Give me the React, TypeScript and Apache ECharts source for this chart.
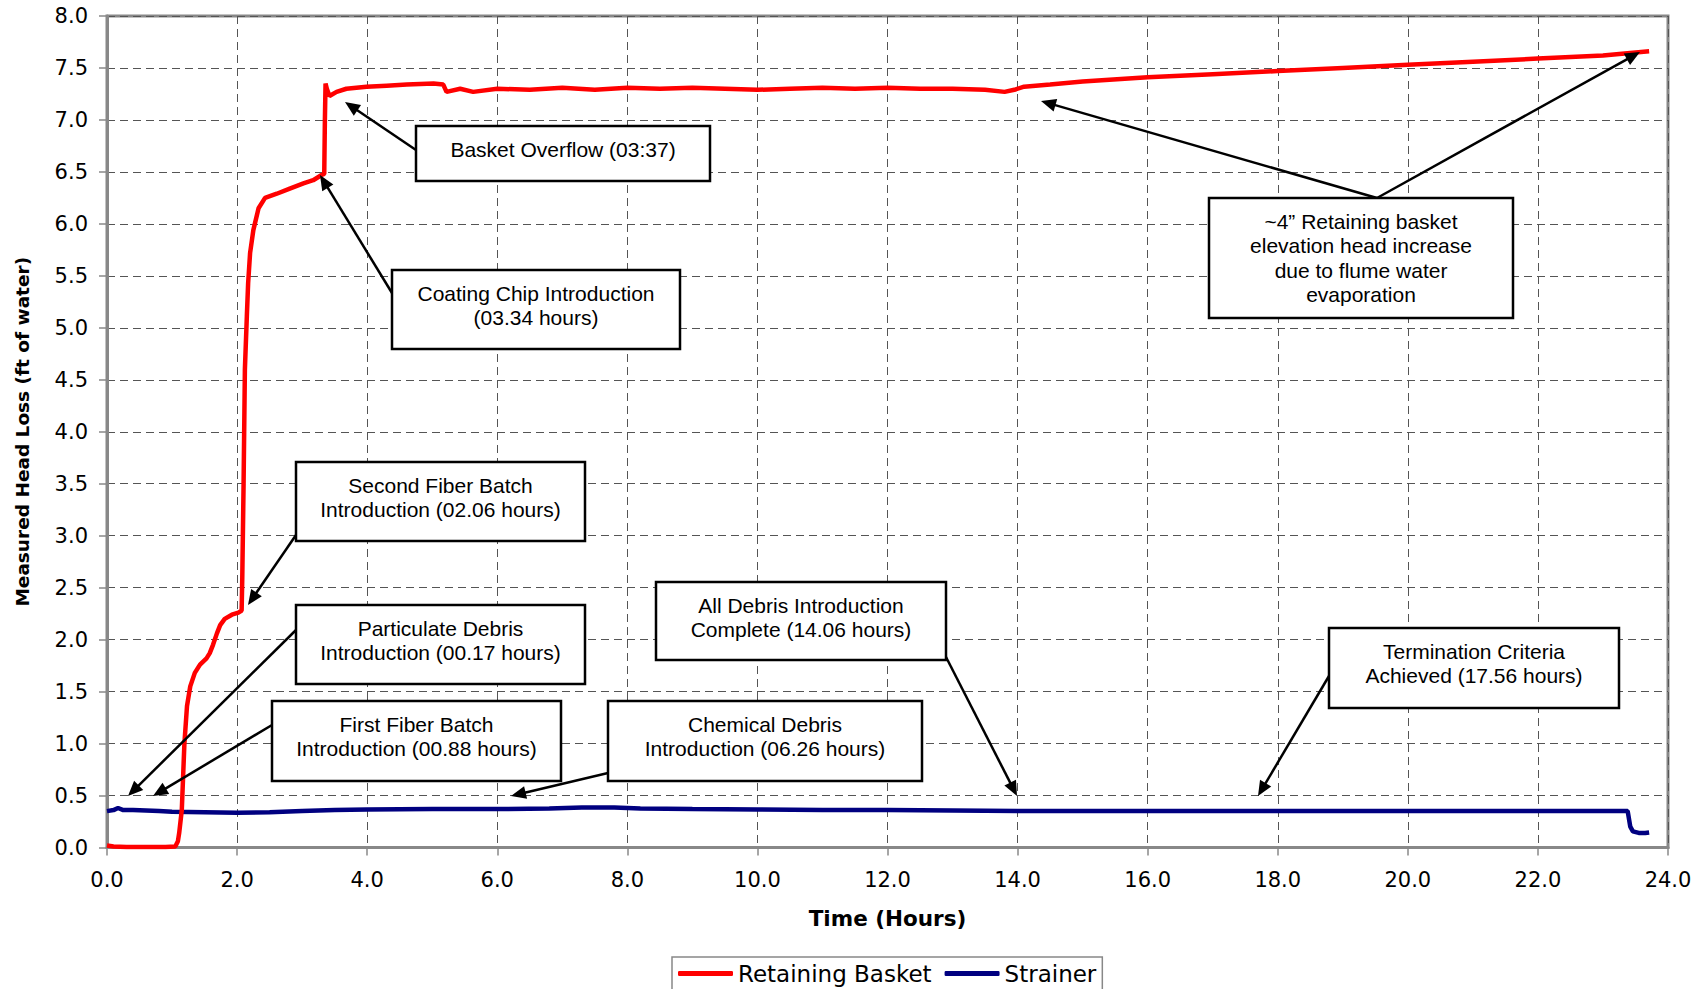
import React, { useEffect, useRef } from "react";
import * as echarts from "echarts";

// Retaining Basket head loss (ft of water) vs time (hours)
const basketTime = [
  0.0, 0.1, 0.3, 0.6, 0.9, 1.05, 1.09, 1.11, 1.15, 1.17, 1.19, 1.23, 1.28, 1.35, 1.43, 1.53, 1.58, 1.63,
  1.69, 1.74, 1.81, 1.92, 2.02, 2.07, 2.08, 2.1, 2.12, 2.15, 2.17, 2.2, 2.25, 2.33, 2.43, 2.61, 2.81,
  3.02, 3.17, 3.3, 3.34, 3.35, 3.36, 3.38, 3.42, 3.53, 3.68, 3.99, 4.3, 4.61, 5.02, 5.17, 5.22, 5.43,
  5.63, 6.0, 6.5, 7.0, 7.5, 8.0, 8.5, 9.0, 9.5, 10.0, 10.5, 11.0, 11.5, 12.0, 12.5, 13.0, 13.5, 13.8,
  13.95, 14.1, 14.5, 15.0, 16.0, 17.0, 18.0, 19.0, 20.0, 21.0, 22.0, 23.0, 23.71,
];
const basketHead = [
  0.02, 0.01, 0.005, 0.005, 0.005, 0.01, 0.06, 0.14, 0.36, 0.68, 1.0, 1.36, 1.55, 1.68, 1.76, 1.82, 1.87, 1.95,
  2.06, 2.14, 2.2, 2.24, 2.26, 2.28, 2.6, 3.5, 4.6, 5.11, 5.43, 5.72, 5.94, 6.15, 6.25, 6.29, 6.34,
  6.39, 6.42, 6.47, 6.48, 7.0, 7.35, 7.3, 7.23, 7.27, 7.3, 7.32, 7.33, 7.34, 7.35, 7.34, 7.27, 7.3,
  7.27, 7.3, 7.29, 7.31, 7.29, 7.31, 7.3, 7.31, 7.3, 7.29, 7.3, 7.31, 7.3, 7.31, 7.3, 7.3, 7.29, 7.27,
  7.29, 7.32, 7.34, 7.37, 7.41, 7.44, 7.47, 7.5, 7.53, 7.56, 7.59, 7.62, 7.66,
];

// Strainer head loss (ft of water) vs time (hours)
const strainerTime = [
  0.0, 0.1, 0.17, 0.25, 0.4, 0.6, 0.8, 1.0, 1.5, 2.0, 2.5, 3.0, 3.5, 4.0, 5.0, 6.0, 6.8, 7.3, 7.8, 8.2,
  9.0, 10.0, 11.0, 12.0, 13.0, 14.0, 15.0, 16.0, 17.0, 18.0, 19.0, 20.0, 21.0, 22.0, 23.0, 23.38, 23.42,
  23.46, 23.55, 23.65, 23.71,
];
const strainerHead = [
  0.35, 0.36, 0.38, 0.36, 0.36, 0.355, 0.35, 0.345, 0.34, 0.335, 0.34, 0.35, 0.36, 0.365, 0.37, 0.37, 0.375,
  0.385, 0.385, 0.375, 0.37, 0.365, 0.36, 0.36, 0.355, 0.35, 0.35, 0.35, 0.35, 0.35, 0.35, 0.35, 0.35, 0.352,
  0.352, 0.35, 0.2, 0.155, 0.14, 0.14, 0.145,
];

const seriesNames = ["Retaining Basket", "Strainer"];
const xAxisTitle = "Time (Hours)";
const yAxisTitle = "Measured Head Loss (ft of water)";

// Annotation texts
const annotationTexts: string[][] = [
  ["Basket Overflow (03:37)"],
  ["Coating Chip Introduction", "(03.34 hours)"],
  ["Second Fiber Batch", "Introduction (02.06 hours)"],
  ["Particulate Debris", "Introduction (00.17 hours)"],
  ["First Fiber Batch", "Introduction (00.88 hours)"],
  ["Chemical Debris", "Introduction (06.26 hours)"],
  ["All Debris Introduction", "Complete (14.06 hours)"],
  ["Termination Criteria", "Achieved (17.56 hours)"],
  ["~4\u201D Retaining basket", "elevation head increase", "due to flume water", "evaporation"],
];

// Annotation layout (pixel boxes [x, y, w, h] and arrows [x1, y1, tipX, tipY])
const annotationLayout: { box: number[]; arrows: number[][] }[] = [
  { box: [416, 126, 294, 55], arrows: [[416, 150, 345, 102]] },
  { box: [392, 270, 288, 79], arrows: [[392, 293, 320, 175]] },
  { box: [296, 462, 289, 79], arrows: [[296, 535, 248, 605]] },
  { box: [296, 605, 289, 79], arrows: [[296, 630, 128, 796]] },
  { box: [272, 701, 289, 80], arrows: [[272, 725, 153, 796]] },
  { box: [608, 701, 314, 80], arrows: [[608, 773, 511, 796]] },
  { box: [656, 582, 290, 78], arrows: [[946, 657, 1017, 796]] },
  { box: [1329, 628, 290, 80], arrows: [[1329, 676, 1258, 796]] },
  { box: [1209, 198, 304, 120], arrows: [[1377, 198, 1041, 101], [1377, 198, 1640, 52]] },
];

export default function App() {
  const ref = useRef<HTMLDivElement>(null);

  useEffect(() => {
    if (!ref.current) return;
    const chart = echarts.init(ref.current, null, { renderer: "svg" });

    const graphics: any[] = [];
    annotationLayout.forEach((a, idx) => {
      a.arrows.forEach(([x1, y1, x2, y2]) => {
        const dx = x2 - x1;
        const dy = y2 - y1;
        const L = Math.hypot(dx, dy);
        const ux = dx / L;
        const uy = dy / L;
        const hl = 15;
        const hw = 6.5;
        const bx = x2 - ux * hl;
        const by = y2 - uy * hl;
        graphics.push({
          type: "line",
          z: 100,
          shape: { x1, y1, x2: bx + ux * 2, y2: by + uy * 2 },
          style: { stroke: "#000", lineWidth: 2.5 },
        });
        graphics.push({
          type: "polygon",
          z: 100,
          shape: {
            points: [
              [x2, y2],
              [bx - uy * hw, by + ux * hw],
              [bx + uy * hw, by - ux * hw],
            ],
          },
          style: { fill: "#000" },
        });
      });
      const [bxp, byp, bw, bh] = a.box;
      graphics.push({
        type: "rect",
        z: 101,
        shape: { x: bxp, y: byp, width: bw, height: bh },
        style: { fill: "#fff", stroke: "#000", lineWidth: 2.5 },
      });
      annotationTexts[idx].forEach((line, i) => {
        graphics.push({
          type: "text",
          z: 102,
          x: bxp + bw / 2,
          y: byp + 23 + i * 24.5,
          style: {
            text: line,
            fill: "#000",
            fontSize: 21,
            fontFamily: '"Liberation Sans", Arial, sans-serif',
            align: "center",
            verticalAlign: "middle",
          },
        });
      });
    });

    const tickFont = {
      fontFamily: '"DejaVu Sans", sans-serif',
      fontSize: 21,
      color: "#000",
    };

    chart.setOption({
      animation: false,
      backgroundColor: "#fff",
      grid: {
        left: 107,
        right: 39,
        top: 16,
        bottom: 141.5,
        show: true,
        borderColor: "#888",
        borderWidth: 3,
        backgroundColor: "transparent",
      },
      legend: {
        data: seriesNames,
        left: 672,
        top: 957,
        orient: "horizontal",
        icon: "roundRect",
        itemWidth: 55,
        itemHeight: 5,
        itemGap: 13,
        padding: [5, 6, 12, 6],
        borderColor: "#888",
        borderWidth: 1.5,
        backgroundColor: "#fff",
        textStyle: { fontFamily: '"DejaVu Sans", sans-serif', fontSize: 23, color: "#000" },
      },
      xAxis: {
        type: "value",
        min: 0,
        max: 24,
        interval: 2,
        name: xAxisTitle,
        nameLocation: "middle",
        nameGap: 60,
        nameTextStyle: {
          fontFamily: '"DejaVu Sans", sans-serif',
          fontSize: 21.5,
          fontWeight: "bold",
          color: "#000",
        },
        axisLine: { show: true, lineStyle: { color: "#888", width: 3 } },
        axisTick: { show: true, length: 8, lineStyle: { color: "#888", width: 1.5 } },
        axisLabel: { ...tickFont, margin: 22, formatter: (v: number) => v.toFixed(1) },
        splitLine: { show: true, lineStyle: { color: "#555", width: 1, type: [8, 5] } },
      },
      yAxis: {
        type: "value",
        min: 0,
        max: 8,
        interval: 0.5,
        name: yAxisTitle,
        nameLocation: "middle",
        nameGap: 75,
        nameTextStyle: {
          fontFamily: '"DejaVu Sans", sans-serif',
          fontSize: 18.5,
          fontWeight: "bold",
          color: "#000",
        },
        axisLine: { show: true, lineStyle: { color: "#888", width: 3 } },
        axisTick: { show: true, length: 8, lineStyle: { color: "#888", width: 1.5 } },
        axisLabel: { ...tickFont, margin: 19, formatter: (v: number) => v.toFixed(1) },
        splitLine: { show: true, lineStyle: { color: "#555", width: 1, type: [8, 5] } },
      },
      series: [
        {
          name: seriesNames[0],
          type: "line",
          showSymbol: false,
          symbol: "none",
          z: 3,
          lineStyle: { color: "#ff0000", width: 4.5 },
          itemStyle: { color: "#ff0000" },
          data: basketTime.map((t, i) => [t, basketHead[i]]),
        },
        {
          name: seriesNames[1],
          type: "line",
          showSymbol: false,
          symbol: "none",
          z: 2,
          lineStyle: { color: "#000080", width: 4.5 },
          itemStyle: { color: "#000080" },
          data: strainerTime.map((t, i) => [t, strainerHead[i]]),
        },
      ],
      graphic: { elements: graphics },
    });

    return () => {
      chart.dispose();
    };
  }, []);

  return (
    <div
      ref={ref}
      style={{ position: "absolute", left: 0, top: 0, width: 1707, height: 989 }}
    />
  );
}
